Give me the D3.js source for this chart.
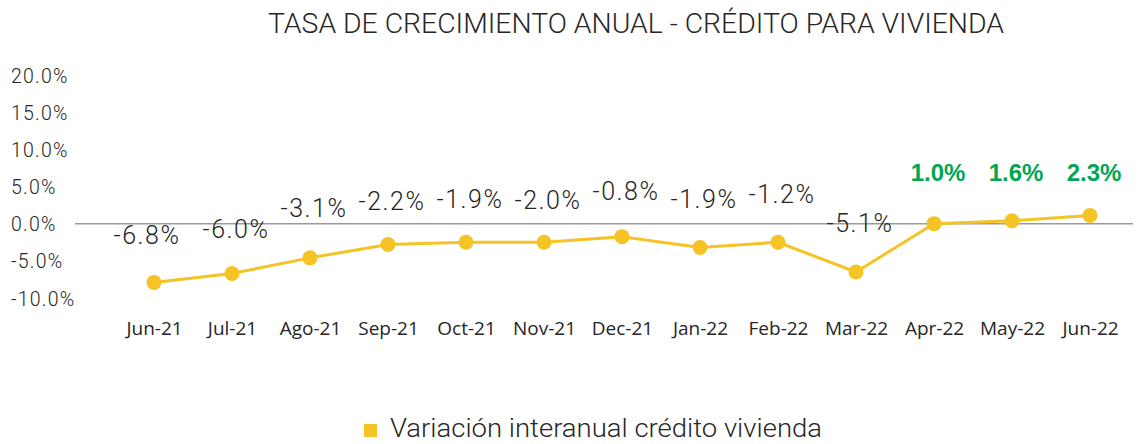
<!DOCTYPE html>
<html>
<head>
<meta charset="utf-8">
<script src="https://cdn.jsdelivr.net/npm/d3@7"></script>
<style>
  body { margin: 0; background: #fff; }
  svg { display: block; }
</style>
</head>
<body>
<svg id="chart" width="1145" height="444"></svg>
<script>
// data
var meses = ["Jun-21","Jul-21","Ago-21","Sep-21","Oct-21","Nov-21","Dec-21","Jan-22","Feb-22","Mar-22","Apr-22","May-22","Jun-22"];
// where the dots sit on the axis
var variacion = [-7.9,-6.7,-4.6,-2.8,-2.5,-2.5,-1.75,-3.2,-2.5,-6.5,0.0,0.4,1.1];
// what the labels say
var etiquetas = [-6.8,-6.0,-3.1,-2.2,-1.9,-2.0,-0.8,-1.9,-1.2,-5.1,1.0,1.6,2.3];
var yTicks = [-10,-5,0,5,10,15,20];

var amarillo = "#F5C324";
var verde = "#00A651";
var texto = "#262626";
var fuenteLight = "Roboto, 'Liberation Sans', sans-serif";

var svg = d3.select("#chart");

// scales
var x = d3.scalePoint()
    .domain(meses)
    .range([154, 1090]);
var y = d3.scaleLinear()
    .domain([-10, 20])
    .range([298, 75]);

// title
svg.append("text")
    .attr("x", 636)
    .attr("y", 33)
    .attr("text-anchor", "middle")
    .attr("textLength", 736)
    .attr("lengthAdjust", "spacingAndGlyphs")
    .style("font-family", fuenteLight)
    .style("font-weight", 300)
    .style("font-size", "27px")
    .style("fill", texto)
    .text("TASA DE CRECIMIENTO ANUAL - CRÉDITO PARA VIVIENDA");

// y axis (labels only, left aligned)
var axisY = d3.axisLeft(y)
    .tickValues(yTicks)
    .tickSize(0)
    .tickFormat(function(d) { return d.toFixed(1) + "%"; });
var gy = svg.append("g")
    .attr("class", "axis-Y")
    .attr("transform", "translate(11,0)")
    .call(axisY);
gy.select(".domain").remove();
gy.selectAll("text")
    .attr("x", 0)
    .attr("dy", "0.36em")
    .attr("text-anchor", "start")
    .style("font-family", fuenteLight)
    .style("font-weight", 300)
    .style("font-size", "19.5px")
    .style("letter-spacing", "1.2px")
    .style("fill", texto);

// zero line
svg.append("line")
    .attr("x1", 75)
    .attr("x2", 1133)
    .attr("y1", y(0))
    .attr("y2", y(0))
    .attr("stroke", "#9b9b9b")
    .attr("stroke-width", 1.5);

// x axis (labels only)
var axisX = d3.axisBottom(x).tickSize(0);
var gx = svg.append("g")
    .attr("class", "axis-X")
    .attr("transform", "translate(0,335)")
    .call(axisX);
gx.select(".domain").remove();
gx.selectAll("text")
    .attr("y", 0)
    .attr("dy", 0)
    .style("font-family", "'Open Sans', sans-serif")
    .style("font-size", "19px")
    .style("fill", texto);

// line + dots
var pts = meses.map(function(m, i) { return {mes: m, v: variacion[i], lab: etiquetas[i]}; });

var linea = d3.line()
    .x(function(d) { return x(d.mes); })
    .y(function(d) { return y(d.v); });

svg.append("path")
    .datum(pts)
    .attr("d", linea)
    .attr("fill", "none")
    .attr("stroke", amarillo)
    .attr("stroke-width", 3);

svg.selectAll("circle.punto")
    .data(pts)
    .enter()
    .append("circle")
    .attr("class", "punto")
    .attr("cx", function(d) { return x(d.mes); })
    .attr("cy", function(d) { return y(d.v); })
    .attr("r", 7.5)
    .attr("fill", amarillo);

// data labels: negatives float above their own value, positives sit in a row in green
svg.selectAll("text.etiqueta")
    .data(pts)
    .enter()
    .append("text")
    .attr("class", "etiqueta")
    .attr("x", function(d, i) { return x(d.mes) + (i == 0 ? -7 : 4); })
    .attr("y", function(d) { return d.lab > 0 ? y(5) - 6 : y(d.lab) - 30; })
    .attr("text-anchor", "middle")
    .style("font-family", function(d) { return d.lab > 0 ? "'Liberation Sans', Arial, sans-serif" : fuenteLight; })
    .style("font-weight", function(d) { return d.lab > 0 ? 700 : 300; })
    .style("font-size", function(d) { return d.lab > 0 ? "24px" : "25px"; })
    .style("letter-spacing", function(d) { return d.lab > 0 ? "0px" : "1.5px"; })
    .style("fill", function(d) { return d.lab > 0 ? verde : texto; })
    .text(function(d) { return d.lab.toFixed(1) + "%"; });

// legend
var leyenda = svg.append("g").attr("transform", "translate(364,424)");
leyenda.append("rect")
    .attr("width", 13)
    .attr("height", 13)
    .attr("fill", amarillo);
leyenda.append("text")
    .attr("x", 26)
    .attr("y", 13)
    .attr("textLength", 432)
    .attr("lengthAdjust", "spacingAndGlyphs")
    .style("font-family", fuenteLight)
    .style("font-weight", 300)
    .style("font-size", "25px")
    .style("fill", texto)
    .text("Variación interanual crédito vivienda");
</script>
</body>
</html>
